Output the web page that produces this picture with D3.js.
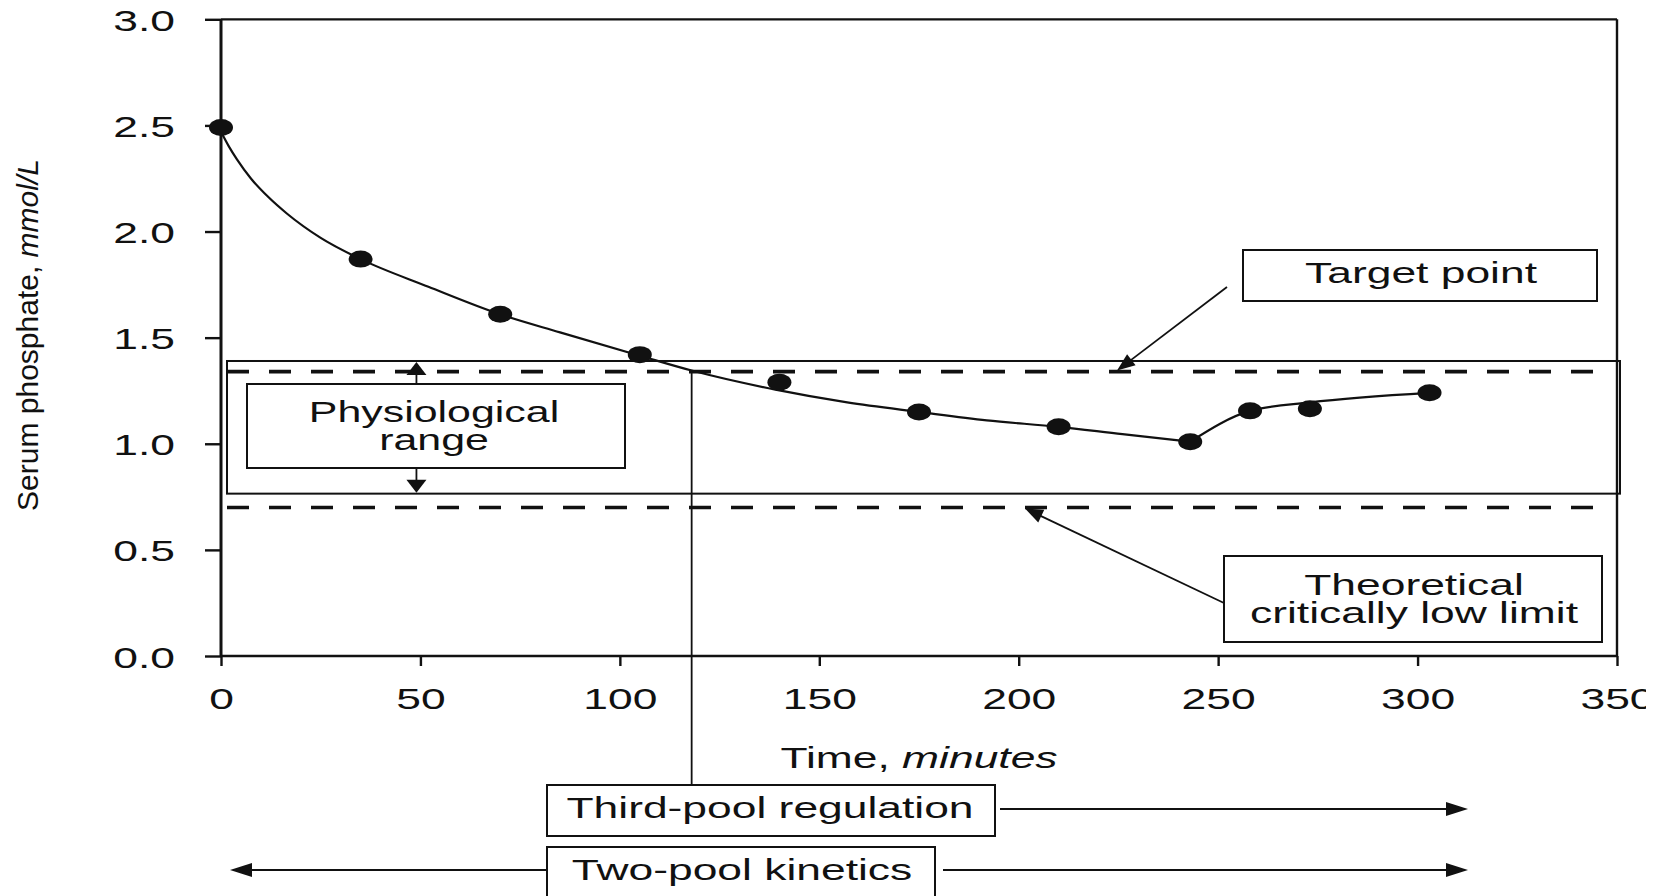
<!DOCTYPE html>
<html>
<head>
<meta charset="utf-8">
<script src="https://cdn.jsdelivr.net/npm/d3@7"></script>
<style>
  html, body { margin: 0; padding: 0; background: #fff; }
  svg { display: block; }
  text { font-family: "Liberation Sans", Arial, Helvetica, sans-serif; fill: #111; }
</style>
</head>
<body>
<div id="chart"></div>
<script>
// Measured serum phosphate samples during dialysis
const sampleTimes  = [0, 35, 70, 105, 140, 175, 210, 243, 258, 273, 303];
const sampleValues = [2.49, 1.87, 1.61, 1.42, 1.29, 1.15, 1.08, 1.01, 1.155, 1.165, 1.24];

// Two-pool kinetic decay curve
const decayTimes  = [0, 2, 4, 7.5, 12, 16.5, 25, 35, 52, 70, 85, 105, 118, 139, 157, 175, 192, 210, 226, 243];
const decayValues = [2.47, 2.40, 2.34, 2.25, 2.16, 2.085, 1.97, 1.87, 1.74, 1.61, 1.525, 1.415, 1.345, 1.255, 1.195, 1.15, 1.11, 1.08, 1.045, 1.01];

// Rebound once the third pool takes over
const reboundTimes  = [243, 258, 273, 303];
const reboundValues = [1.01, 1.155, 1.195, 1.24];

// Axis ticks
const xTicks = [0, 50, 100, 150, 200, 250, 300, 350];
const yTicks = [0, 0.5, 1.0, 1.5, 2.0, 2.5, 3.0];

// Reference levels (mmol/L) and time markers (minutes)
const targetLevel = 1.34;
const criticalLow = 0.70;
const physiologicalRange = [0.765, 1.39];
const thirdPoolOnset = 118;

const W = 1646, H = 896;
const SX = 1.48;          // horizontal stretch used for all horizontal lettering
const INK = "#111";

const svg = d3.select("#chart").append("svg")
  .attr("width", W).attr("height", H);

const x = d3.scaleLinear().domain([0, 350]).range([221, 1617]);
const y = d3.scaleLinear().domain([0, 3]).range([656, 19.3]);

// Horizontal label, optionally several lines held in one text element
function stretchedText(g, px, py, lines, size, lineGap) {
  const t = g.append("text")
    .attr("transform", `translate(${px},${py}) scale(${SX},1)`)
    .attr("text-anchor", "middle")
    .attr("font-size", size || 30);
  [].concat(lines).forEach((str, i) => {
    t.append("tspan").attr("x", 0).attr("dy", i === 0 ? 0 : lineGap).text(str);
  });
  return t;
}

function line(g, x1, y1, x2, y2, w) {
  return g.append("line")
    .attr("x1", x1).attr("y1", y1).attr("x2", x2).attr("y2", y2)
    .attr("stroke", INK).attr("stroke-width", w || 2);
}

function head(g, tipX, tipY, angle, len, half) {
  // triangle pointing along angle (radians) with its tip at (tipX, tipY)
  const c = Math.cos(angle), s = Math.sin(angle);
  const bx = tipX - len * c, by = tipY - len * s;
  const pts = [
    [tipX, tipY],
    [bx - half * s, by + half * c],
    [bx + half * s, by - half * c]
  ];
  g.append("polygon").attr("points", pts.map(p => p.join(",")).join(" ")).attr("fill", INK);
}

function box(g, x0, y0, x1, y1, w) {
  return g.append("rect")
    .attr("x", x0).attr("y", y0).attr("width", x1 - x0).attr("height", y1 - y0)
    .attr("fill", "#fff").attr("stroke", INK).attr("stroke-width", w || 2);
}

const plot = svg.append("g");

// Physiological range band
plot.append("rect")
  .attr("x", x(0) + 6).attr("y", y(physiologicalRange[1]))
  .attr("width", x(350) + 3 - (x(0) + 6))
  .attr("height", y(physiologicalRange[0]) - y(physiologicalRange[1]))
  .attr("fill", "none").attr("stroke", INK).attr("stroke-width", 2);

// Target and critical levels
[targetLevel, criticalLow].forEach(v => {
  plot.append("line")
    .attr("x1", x(0) + 6).attr("x2", x(350) - 4)
    .attr("y1", y(v)).attr("y2", y(v))
    .attr("stroke", INK).attr("stroke-width", 3.6)
    .attr("stroke-dasharray", "22,20");
});

// Frame
line(plot, x(0), y(3), x(350), y(3), 2.2);
line(plot, x(350), y(3), x(350), y(0), 2.4);
line(plot, x(0), y(0), x(350), y(0), 2.6);
line(plot, x(0), y(3), x(0), y(0), 3);

// Axes
const gx = plot.append("g")
  .attr("transform", `translate(0,${y(0)})`)
  .call(d3.axisBottom(x).tickValues(xTicks).tickSize(10).tickSizeOuter(0).tickFormat(d3.format("d")))
  .attr("font-family", null).attr("font-size", null);
gx.select(".domain").remove();
gx.selectAll(".tick line").attr("stroke", INK).attr("stroke-width", 2.4);
gx.selectAll(".tick text")
  .attr("y", null).attr("dy", null)
  .attr("transform", `translate(0,53) scale(${SX},1)`)
  .attr("font-size", 30).attr("fill", INK);

const gy = plot.append("g")
  .attr("transform", `translate(${x(0)},0)`)
  .call(d3.axisLeft(y).tickValues(yTicks).tickSize(16).tickSizeOuter(0).tickFormat(d3.format(".1f")))
  .attr("font-family", null).attr("font-size", null);
gy.select(".domain").remove();
gy.selectAll(".tick line").attr("stroke", INK).attr("stroke-width", 2.4);
gy.selectAll(".tick text")
  .attr("x", null).attr("dy", null)
  .attr("transform", `translate(-46,11) scale(${SX},1)`)
  .attr("font-size", 30).attr("fill", INK);

// Axis titles
const yTitle = svg.append("text")
  .attr("transform", "translate(38,335) rotate(-90)")
  .attr("text-anchor", "middle").attr("font-size", 30);
yTitle.append("tspan").text("Serum phosphate, ");
yTitle.append("tspan").attr("font-style", "italic").text("mmol/L");

const xTitle = svg.append("text")
  .attr("transform", `translate(919,768) scale(${SX},1)`)
  .attr("text-anchor", "middle").attr("font-size", 30);
xTitle.append("tspan").text("Time, ");
xTitle.append("tspan").attr("font-style", "italic").text("minutes");

// Onset of third-pool regulation
line(svg, x(thirdPoolOnset), y(targetLevel), x(thirdPoolOnset), 785, 1.8);

// Curves
const curveGen = d3.line().x(d => x(d[0])).y(d => y(d[1])).curve(d3.curveMonotoneX);
plot.append("path")
  .datum(d3.zip(decayTimes, decayValues))
  .attr("d", curveGen).attr("fill", "none").attr("stroke", INK).attr("stroke-width", 2.2);
plot.append("path")
  .datum(d3.zip(reboundTimes, reboundValues))
  .attr("d", curveGen).attr("fill", "none").attr("stroke", INK).attr("stroke-width", 2.2);

// Samples
plot.selectAll("ellipse.sample")
  .data(d3.zip(sampleTimes, sampleValues))
  .join("ellipse").attr("class", "sample")
  .attr("cx", d => x(d[0])).attr("cy", d => y(d[1]))
  .attr("rx", 12).attr("ry", 8.5).attr("fill", INK);

// Physiological range label with up/down arrows
const ann = svg.append("g");
const armX = x(49);
line(ann, armX, 384, armX, 372, 1.8);
head(ann, armX, y(physiologicalRange[1]) + 1, -Math.PI / 2, 13, 10);
line(ann, armX, 468, armX, 480, 1.8);
head(ann, armX, y(physiologicalRange[0]) - 1, Math.PI / 2, 13, 10);
box(ann, 247, 384, 625, 468, 2);
stretchedText(ann, 434, 422, ["Physiological", "range"], 29, 28);

// Target point callout
box(ann, 1243, 250, 1597, 301, 2);
stretchedText(ann, 1421, 283, "Target point", 30);
{
  const x1 = 1227, y1 = 287, x2 = 1117, y2 = y(targetLevel) - 1;
  const a = Math.atan2(y2 - y1, x2 - x1);
  line(ann, x1, y1, x2 - 12 * Math.cos(a), y2 - 12 * Math.sin(a), 1.8);
  head(ann, x2, y2, a, 18, 7);
}

// Critically low limit callout
box(ann, 1224, 556, 1602, 642, 2);
stretchedText(ann, 1414, 595, ["Theoretical", "critically low limit"], 30, 28);
{
  const x1 = 1224, y1 = 603, x2 = 1025, y2 = y(criticalLow) + 1;
  const a = Math.atan2(y2 - y1, x2 - x1);
  line(ann, x1, y1, x2 - 12 * Math.cos(a), y2 - 12 * Math.sin(a), 1.8);
  head(ann, x2, y2, a, 18, 7);
}

// Kinetic phase spans below the axis
box(ann, 547, 785, 995, 836, 2);
stretchedText(ann, 770, 818, "Third-pool regulation", 30);
line(ann, 1000, 809, 1450, 809, 1.8);
head(ann, 1468, 809, 0, 22, 7);

box(ann, 547, 847, 935, 910, 2);
stretchedText(ann, 742, 880, "Two-pool kinetics", 30);
line(ann, 547, 870, 248, 870, 1.8);
head(ann, 230, 870, Math.PI, 22, 7);
line(ann, 943, 870, 1450, 870, 1.8);
head(ann, 1468, 870, 0, 22, 7);
</script>
</body>
</html>
